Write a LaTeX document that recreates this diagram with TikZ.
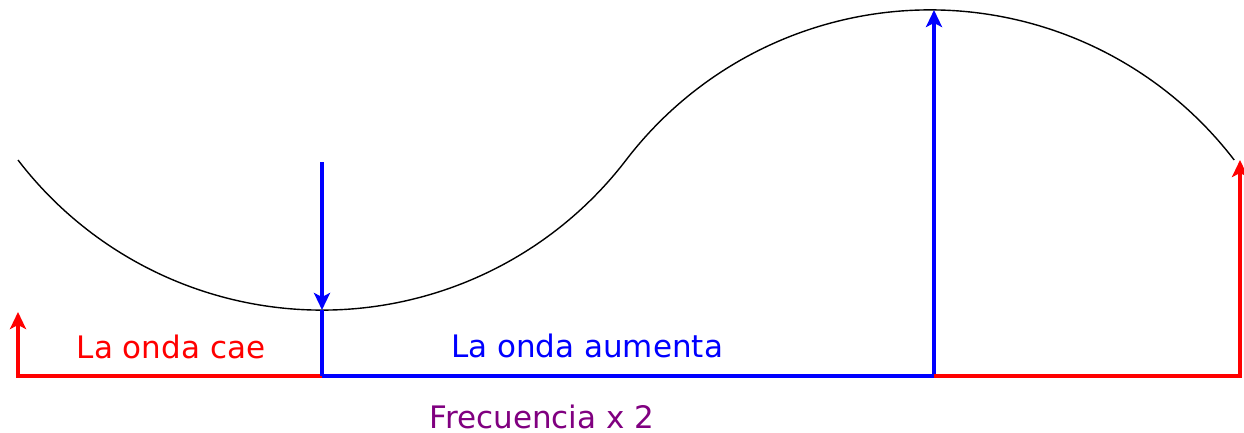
\documentclass[tikz,border=0pt]{standalone}
\usepackage{fontspec}
\setmainfont{DejaVu Sans}
\usetikzlibrary{arrows.meta}
\definecolor{wred}{RGB}{255,0,0}
\definecolor{wblue}{RGB}{0,0,255}
\definecolor{wpurple}{RGB}{128,0,128}
\tikzset{
  wave/.style={black, line width=1.4pt},
  thick line/.style={line width=4pt},
  tip/.style={-{Stealth[length=17pt,width=16pt,inset=4pt]}},
  lbl/.style={font=\fontsize{31}{37}\selectfont, anchor=base, inner sep=0pt}
}
\begin{document}
\begin{tikzpicture}[x=1pt,y=1pt]
\useasboundingbox (0,0) rectangle (1244,432);
% key points (y measured upward: y = 432 - pixel row)
\coordinate (w0) at (18,272);
\coordinate (wmin) at (322,122);
\coordinate (wmid) at (628,272);
\coordinate (wmax) at (934,422);
\coordinate (w1) at (1240,272);
\coordinate (b0) at (18,56);
\coordinate (b1) at (322,56);
\coordinate (b2) at (934,56);
\coordinate (b3) at (1240,56);
\coordinate (r0) at (18,120);
\coordinate (dtop) at (322,270);
% wave: two circular arcs
\draw[wave] (w0) arc[start angle=217.45, end angle=322.55, radius=383]
  arc[start angle=142.55, end angle=37.45, radius=383];
% red left
\draw[wred, thick line, tip] (b1) -- (b0) -- (r0);
% blue
\draw[wblue, thick line] (b1) -- (wmin);
\draw[wblue, thick line, tip] (dtop) -- (wmin);
\draw[wblue, thick line, tip] (b1) -- (b2) -- (wmax);
% red right
\draw[wred, thick line, tip] (b2) -- (b3) -- (w1);
% labels
\node[lbl, text=wred] (cae) at (171,74) {La onda cae};
\node[lbl, text=wblue] (aum) at (587,75) {La onda aumenta};
\node[lbl, text=wpurple] (freq) at (542,4) {Frecuencia x 2};
\end{tikzpicture}
\end{document}
